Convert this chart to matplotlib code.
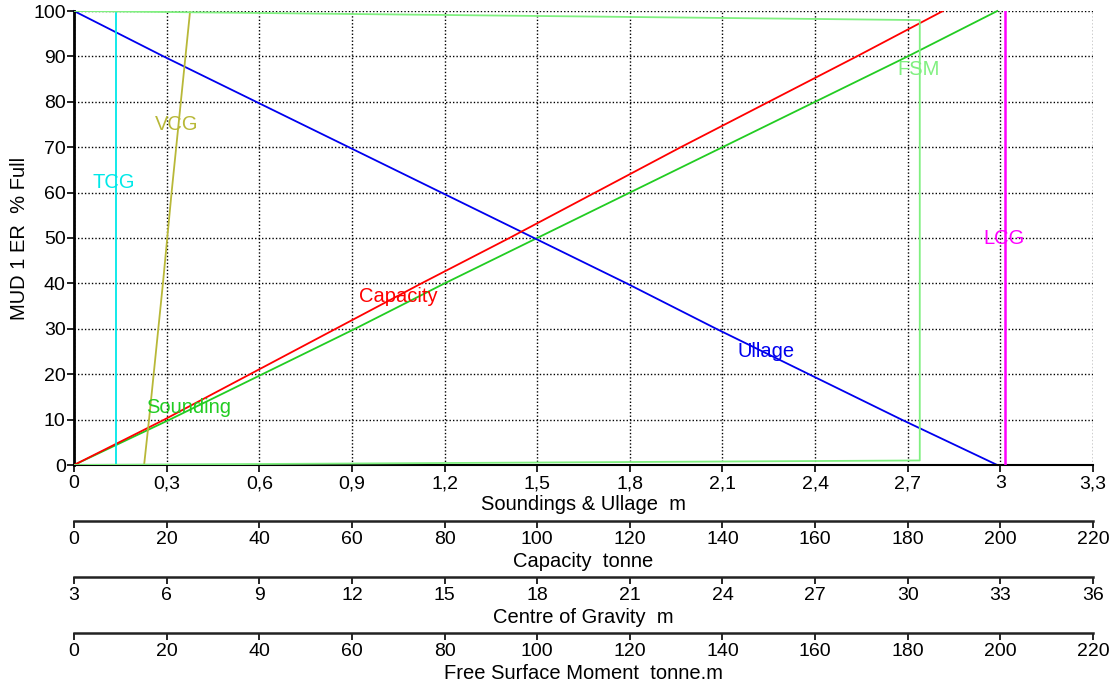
import matplotlib
matplotlib.use("Agg")
import matplotlib.pyplot as plt
from matplotlib.ticker import FuncFormatter, MultipleLocator

plt.rcParams['font.family'] = ['Liberation Sans', 'DejaVu Sans']
plt.rcParams['font.size'] = 14.5

# percent full levels
pct_full = [0, 10, 20, 30, 40, 50, 60, 70, 80, 90, 100]

# soundings & ullage (m)
sounding = [0.0, 0.31, 0.61, 0.91, 1.20, 1.50, 1.80, 2.10, 2.40, 2.70, 2.99]
ullage = [2.99, 2.68, 2.38, 2.08, 1.79, 1.49, 1.19, 0.89, 0.59, 0.29, 0.0]

# capacity (tonne)
capacity = [0.0, 19.5, 38.0, 56.5, 75.0, 94.0, 112.5, 131.0, 150.0, 169.0, 187.6]

# centre of gravity (m)
vcg = [5.27, 5.43, 5.58, 5.73, 5.88, 6.02, 6.16, 6.31, 6.46, 6.61, 6.76]
tcg = [4.35] * len(pct_full)
lcg = [33.15] * len(pct_full)

# free surface moment (tonne.m)
fsm_pct = [0, 1, 98, 100]
fsm = [0.0, 182.6, 182.6, 0.0]

fig = plt.figure(figsize=(11.14, 6.84), dpi=100)
ax = fig.add_axes([74 / 1114, 1 - 465 / 684, 1019 / 1114, 454 / 684])


def comma(v, pos):
    return f"{round(v, 2):g}".replace('.', ',')


ax.set_xlim(0, 3.3)
ax.set_ylim(0, 100)
ax.xaxis.set_major_locator(MultipleLocator(0.3))
ax.xaxis.set_major_formatter(FuncFormatter(comma))
ax.yaxis.set_major_locator(MultipleLocator(10))
ax.grid(True, color='black', linestyle=(0, (1, 1.5)), linewidth=1)
for s in ['top', 'right']:
    ax.spines[s].set_visible(False)
ax.spines['left'].set_linewidth(2)
ax.spines['bottom'].set_linewidth(1.5)
ax.tick_params(length=5, width=1.2, pad=1, labelsize=14)
ax.tick_params(axis='x', pad=2.5)
ax.set_xlabel("Soundings & Ullage  m", labelpad=2)
ax.set_ylabel("MUD 1 ER  % Full", labelpad=3)


def extra_axis(offset_px, lo, hi, step, label):
    a = ax.twiny()
    a.xaxis.set_ticks_position('bottom')
    a.xaxis.set_label_position('bottom')
    a.spines['bottom'].set_position(('outward', offset_px * 0.72))
    for s in ['top', 'right', 'left']:
        a.spines[s].set_visible(False)
    a.spines['bottom'].set_linewidth(1.8)
    a.spines['bottom'].set_color('#222222')
    a.set_xlim(lo, hi)
    a.xaxis.set_major_locator(MultipleLocator(step))
    a.tick_params(axis='x', length=5, width=1.2, pad=2.5, labelsize=14)
    a.set_xlabel(label, labelpad=2.5)
    a.patch.set_visible(False)
    return a


ax_cap = extra_axis(56, 0, 220, 20, "Capacity  tonne")
ax_cog = extra_axis(112, 3, 36, 3, "Centre of Gravity  m")
ax_fsm = extra_axis(168, 0, 220, 20, "Free Surface Moment  tonne.m")

lw = 1.3
ax.plot(sounding, pct_full, color='#22cc22', lw=lw, clip_on=False)
ax.plot(ullage, pct_full, color='#0000ee', lw=lw, clip_on=False)
ax_cap.plot(capacity, pct_full, color='#ff0000', lw=lw)
ax_cog.plot(vcg, pct_full, color='#b8b838', lw=lw)
ax_cog.plot(tcg, pct_full, color='#00e8e8', lw=lw)
ax_cog.plot(lcg, pct_full, color='#ff00ff', lw=lw + 0.5)
ax_fsm.plot(fsm, fsm_pct, color='#80f080', lw=lw)

labels = [
    ("TCG", 0.13, 62.3, '#00e8e8'),
    ("VCG", 0.333, 75.1, '#b8b838'),
    ("Capacity", 1.05, 37.2, '#ff0000'),
    ("Sounding", 0.37, 12.6, '#22cc22'),
    ("Ullage", 2.24, 24.9, '#0000ee'),
    ("FSM", 2.736, 87.2, '#80f080'),
    ("LCG", 3.012, 49.8, '#ff00ff'),
]
for txt, x, y, c in labels:
    ax_fsm.text(x / 3.3, y / 100, txt, color=c, ha='center', va='center',
                transform=ax.transAxes)

fig.savefig("out.png", dpi=100)
